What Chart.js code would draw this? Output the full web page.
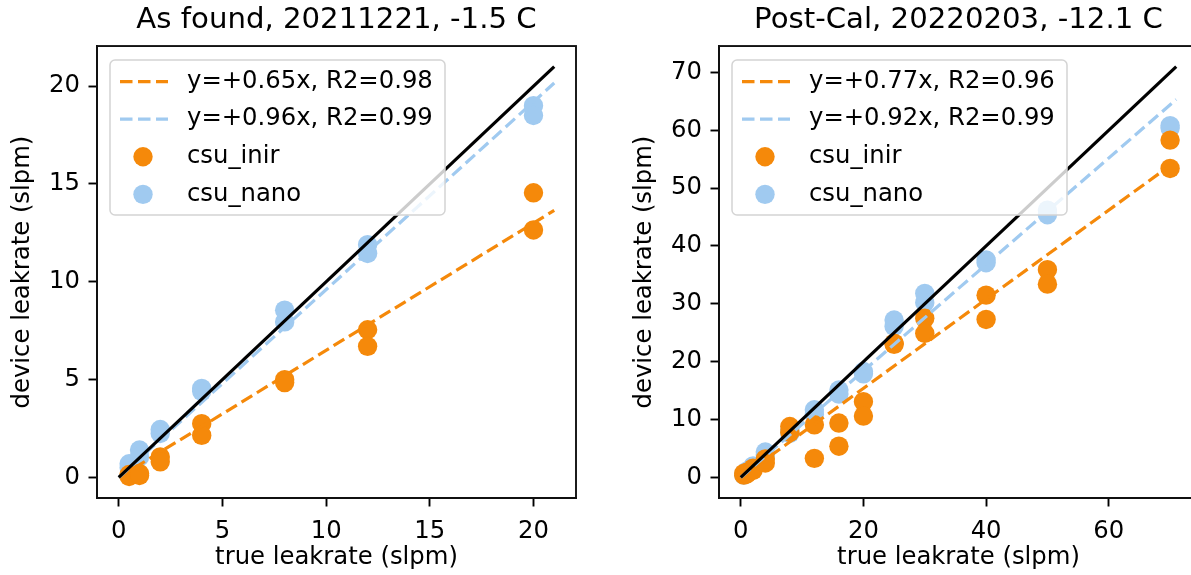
<!DOCTYPE html>
<html>
<head>
<meta charset="utf-8">
<script src="https://cdn.jsdelivr.net/npm/chart.js@4.4.0/dist/chart.umd.min.js"></script>
<style>
  html, body { margin: 0; padding: 0; background: #fff; overflow: hidden; }
  body { width: 1191px; height: 575px; position: relative; }
  canvas { position: absolute; top: 0; }
  #left { left: 0; }
  #right { left: 600px; }
</style>
</head>
<body>
<canvas id="left" width="600" height="575"></canvas>
<canvas id="right" width="620" height="575"></canvas>
<script>
// ---- data ----
const leftTitle = 'As found, 20211221, -1.5 C';
const leftTrue = [0.5, 0.5, 1, 1, 2, 2, 4, 4, 8, 8, 12, 12, 20, 20];
const leftInir = [0.05, 0.15, 0.1, 0.2, 1.05, 0.8, 2.75, 2.15, 5.0, 4.85, 7.55, 6.7, 14.55, 12.65];
const leftNano = [0.7, 0.5, 1.4, 1.05, 2.45, 2.25, 4.55, 4.4, 8.55, 7.95, 11.9, 11.45, 19.0, 18.5];
const leftLineX = [0, 21];
const leftIdentity = [0, 21];
const leftFitInir = [0, 13.65];
const leftFitNano = [0, 20.16];
const leftFitLabels = ['y=+0.65x, R2=0.98', 'y=+0.96x, R2=0.99'];
const leftXTicks = [0, 5, 10, 15, 20];
const leftYTicks = [0, 5, 10, 15, 20];

const rightTitle = 'Post-Cal, 20220203, -12.1 C';
const rightTrue = [0.5, 0.5, 1, 1, 2, 2, 4, 4, 8, 8, 12, 12, 16, 16, 20, 20, 25, 25, 30, 30, 40, 40, 50, 50, 70, 70];
const rightInir = [0.4, 0.7, 0.9, 0.6, 1.6, 1.2, 2.5, 3.2, 8.8, 7.8, 9.1, 3.3, 9.4, 5.4, 13.1, 10.6, 23.2, 23.0, 27.5, 24.9, 31.5, 27.3, 35.9, 33.4, 58.3, 53.4];
const rightNano = [0.6, 0.4, 1.1, 0.9, 2.0, 1.8, 4.4, 3.9, 8.2, 7.6, 11.7, 10.9, 15.1, 14.4, 18.3, 17.9, 27.2, 26.1, 31.8, 30.2, 37.6, 37.1, 46.2, 45.4, 60.8, 60.4];
const rightLineX = [0, 71];
const rightIdentity = [0, 71];
const rightFitInir = [0, 54.67];
const rightFitNano = [0, 65.32];
const rightFitLabels = ['y=+0.77x, R2=0.96', 'y=+0.92x, R2=0.99'];
const rightXTicks = [0, 20, 40, 60];
const rightYTicks = [0, 10, 20, 30, 40, 50, 60, 70];

const seriesNames = ['csu_inir', 'csu_nano'];
const ORANGE = '#f5890a';
const BLUE = '#a0caf0';

Chart.defaults.font.family = '"DejaVu Sans", sans-serif';
Chart.defaults.color = '#000';

const pts = (xs, ys) => xs.map((x, i) => ({x: x, y: ys[i]}));

// axes frame on all four sides
const framePlugin = {
  id: 'frame',
  afterDraw(chart) {
    const {ctx, chartArea: a} = chart;
    ctx.save();
    ctx.strokeStyle = '#111';
    ctx.lineWidth = 1.9;
    ctx.strokeRect(a.left, a.top, a.right - a.left, a.bottom - a.top);
    ctx.restore();
  }
};

// matplotlib-like legend inside the axes, upper left
const boxLegend = {
  id: 'boxLegend',
  afterDatasetsDraw(chart) {
    const {ctx, chartArea: a} = chart;
    const items = chart.data.datasets.filter(d => d.label);
    const x = a.left + 13, y = a.top + 14, w = 335, h = 155;
    ctx.save();
    ctx.beginPath();
    if (ctx.roundRect) ctx.roundRect(x, y, w, h, 5); else ctx.rect(x, y, w, h);
    ctx.fillStyle = 'rgba(255,255,255,0.8)';
    ctx.fill();
    ctx.strokeStyle = '#d4d4d4';
    ctx.lineWidth = 1.5;
    ctx.stroke();
    items.forEach((d, i) => {
      const cy = y + 21.5 + i * 37.6;
      if (d.showLine) {
        ctx.setLineDash(d.borderDash || []);
        ctx.strokeStyle = d.borderColor;
        ctx.lineWidth = d.borderWidth;
        ctx.beginPath();
        ctx.moveTo(x + 10, cy);
        ctx.lineTo(x + 58, cy);
        ctx.stroke();
        ctx.setLineDash([]);
      } else {
        ctx.fillStyle = d.pointBackgroundColor;
        ctx.beginPath();
        ctx.arc(x + 33, cy, 9.7, 0, Math.PI * 2);
        ctx.fill();
      }
      ctx.fillStyle = '#000';
      ctx.font = '24.3px "DejaVu Sans"';
      ctx.textBaseline = 'middle';
      ctx.textAlign = 'left';
      ctx.fillText(d.label, x + 77, cy);
    });
    ctx.restore();
  }
};

function drawPanel(id, p) {
  const lineSet = (label, ys, color, dash, order) => ({
    label: label, data: pts(p.lineX, ys), showLine: true, borderColor: color,
    borderWidth: 3.2, borderDash: dash, pointRadius: 0, fill: false, order: order
  });
  const dotSet = (label, ys, color, order) => ({
    label: label, data: pts(p.trueX, ys), showLine: false, pointRadius: 9.7,
    pointBackgroundColor: color, backgroundColor: color, pointBorderWidth: 0, borderWidth: 0, order: order
  });
  const datasets = [
    lineSet(p.fitLabels[0], p.fitInir, ORANGE, [12.5, 5.5], 2),
    lineSet(p.fitLabels[1], p.fitNano, BLUE, [12.5, 5.5], 1),
    dotSet(seriesNames[0], p.inir, ORANGE, 3),
    dotSet(seriesNames[1], p.nano, BLUE, 4),
    Object.assign(lineSet(null, p.identity, '#000', [], 0), {label: undefined})
  ];
  const tickFont = {size: 24.3};
  const axis = (ticks, lim, isX) => ({
    type: 'linear',
    min: lim[0], max: lim[1],
    afterBuildTicks: s => { s.ticks = ticks.map(v => ({value: v})); },
    afterFit: s => { if (isX) s.height = 77; else s.width = p.yAxisWidth; },
    grid: {drawOnChartArea: false, drawTicks: true, tickLength: 8.5, tickColor: '#000', tickWidth: 1.9},
    border: {display: true, color: '#111', width: 1.9},
    ticks: {font: tickFont, padding: isX ? 10.5 : 8.5, color: '#000', maxRotation: 0,
      callback: v => String(v)},
    title: {display: true, text: isX ? 'true leakrate (slpm)' : 'device leakrate (slpm)',
      font: {size: 24.3}, color: '#000',
      padding: isX ? {top: 0, bottom: 3} : {top: p.yTitlePad, bottom: 0}}
  });
  return new Chart(document.getElementById(id), {
    type: 'scatter',
    data: {datasets: datasets},
    plugins: [boxLegend, framePlugin],
    options: {
      responsive: false,
      animation: false,
      events: [],
      layout: {padding: {left: 0, top: 0, right: p.padRight, bottom: 0}},
      scales: {
        x: axis(p.xTicks, p.xLim, true),
        y: axis(p.yTicks, p.yLim, false)
      },
      plugins: {
        legend: {display: false},
        tooltip: {enabled: false},
        title: {display: true, text: p.title, fullSize: false, color: '#000',
          font: {size: 29.2, weight: 'normal'}, padding: {top: 3, bottom: 8}}
      }
    }
  });
}

drawPanel('left', {
  title: leftTitle, trueX: leftTrue, inir: leftInir, nano: leftNano,
  lineX: leftLineX, identity: leftIdentity, fitInir: leftFitInir, fitNano: leftFitNano,
  fitLabels: leftFitLabels, xTicks: leftXTicks, yTicks: leftYTicks,
  xLim: [-1.05, 22.05], yLim: [-1.05, 22.05],
  yAxisWidth: 97, padRight: 24, yTitlePad: 8
});
drawPanel('right', {
  title: rightTitle, trueX: rightTrue, inir: rightInir, nano: rightNano,
  lineX: rightLineX, identity: rightIdentity, fitInir: rightFitInir, fitNano: rightFitNano,
  fitLabels: rightFitLabels, xTicks: rightXTicks, yTicks: rightYTicks,
  xLim: [-3.55, 74.55], yLim: [-3.55, 74.55],
  yAxisWidth: 119, padRight: 22, yTitlePad: 30
});
</script>
</body>
</html>
